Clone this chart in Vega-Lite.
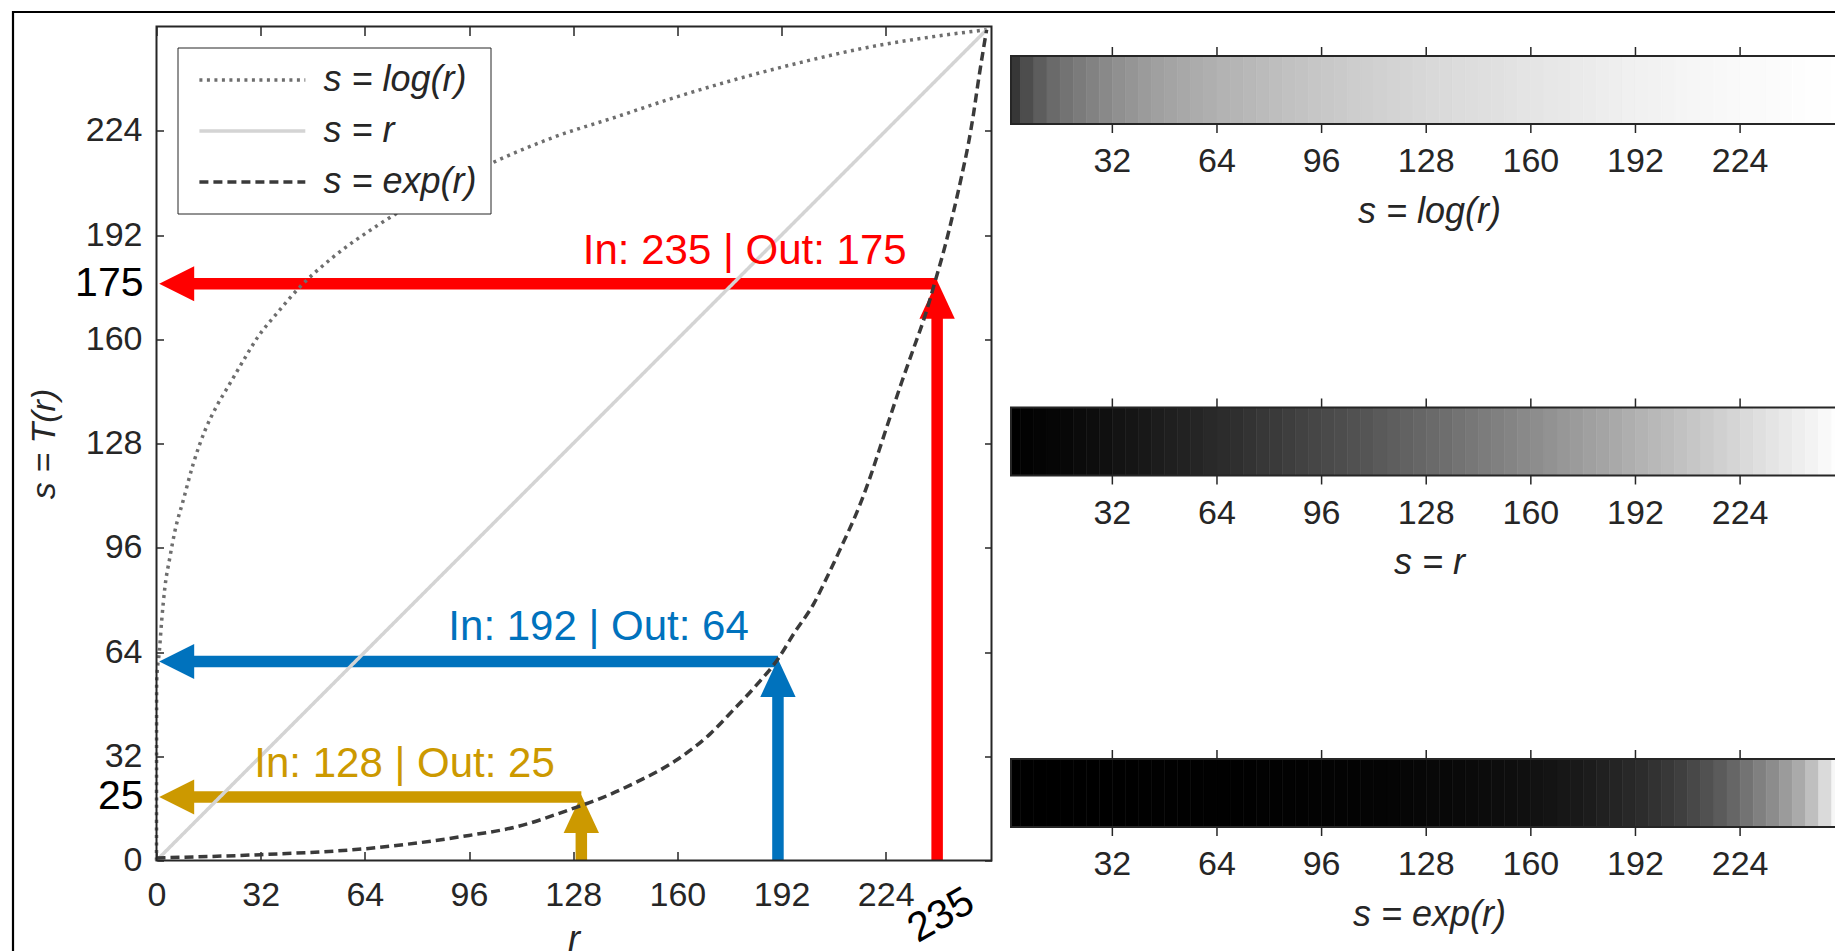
{
  "$schema": "https://vega.github.io/schema/vega-lite/v6.json",
  "usermeta": {"embedOptions": {"actions": false}},
  "background": "white",
  "autosize": {"type": "none"},
  "width": 1678.5,
  "height": 834,
  "padding": {"left": 156.5, "top": 26.5, "right": 0, "bottom": 90.5},
  "datasets": {
    "curves": [
      {"c": "s = log(r)", "r": 0, "s": 0}, {"c": "s = log(r)", "r": 0.05, "s": 55}, {"c": "s = log(r)", "r": 0.9, "s": 64.5},
      {"c": "s = log(r)", "r": 1.6, "s": 73.7}, {"c": "s = log(r)", "r": 2.6, "s": 84}, {"c": "s = log(r)", "r": 4.1, "s": 93},
      {"c": "s = log(r)", "r": 5.7, "s": 101.3}, {"c": "s = log(r)", "r": 8.2, "s": 110.5}, {"c": "s = log(r)", "r": 11.3, "s": 121.8},
      {"c": "s = log(r)", "r": 14.9, "s": 132}, {"c": "s = log(r)", "r": 18.5, "s": 139.5}, {"c": "s = log(r)", "r": 22.6, "s": 146.5},
      {"c": "s = log(r)", "r": 27, "s": 154}, {"c": "s = log(r)", "r": 31, "s": 160.5}, {"c": "s = log(r)", "r": 37, "s": 168},
      {"c": "s = log(r)", "r": 44, "s": 176}, {"c": "s = log(r)", "r": 54, "s": 185}, {"c": "s = log(r)", "r": 68, "s": 195},
      {"c": "s = log(r)", "r": 85, "s": 205}, {"c": "s = log(r)", "r": 105, "s": 215}, {"c": "s = log(r)", "r": 122, "s": 222},
      {"c": "s = log(r)", "r": 142, "s": 228.5}, {"c": "s = log(r)", "r": 157, "s": 233.5}, {"c": "s = log(r)", "r": 177, "s": 239.5},
      {"c": "s = log(r)", "r": 198, "s": 245}, {"c": "s = log(r)", "r": 218, "s": 249.5}, {"c": "s = log(r)", "r": 238, "s": 252.8},
      {"c": "s = log(r)", "r": 255, "s": 255},
      {"c": "s = r", "r": 0, "s": 0}, {"c": "s = r", "r": 255, "s": 255},
      {"c": "s = exp(r)", "r": 0, "s": 0.8}, {"c": "s = exp(r)", "r": 32, "s": 1.8}, {"c": "s = exp(r)", "r": 64, "s": 3.6},
      {"c": "s = exp(r)", "r": 96, "s": 7.7}, {"c": "s = exp(r)", "r": 110, "s": 10.2}, {"c": "s = exp(r)", "r": 128, "s": 16},
      {"c": "s = exp(r)", "r": 137, "s": 19.3}, {"c": "s = exp(r)", "r": 146.5, "s": 23.6}, {"c": "s = exp(r)", "r": 160, "s": 31},
      {"c": "s = exp(r)", "r": 170, "s": 38.8}, {"c": "s = exp(r)", "r": 177, "s": 46}, {"c": "s = exp(r)", "r": 184, "s": 53.5},
      {"c": "s = exp(r)", "r": 191, "s": 62}, {"c": "s = exp(r)", "r": 196, "s": 70}, {"c": "s = exp(r)", "r": 202, "s": 79},
      {"c": "s = exp(r)", "r": 206, "s": 87}, {"c": "s = exp(r)", "r": 210, "s": 95.5}, {"c": "s = exp(r)", "r": 216, "s": 109},
      {"c": "s = exp(r)", "r": 219, "s": 117}, {"c": "s = exp(r)", "r": 222, "s": 126}, {"c": "s = exp(r)", "r": 225.3, "s": 136},
      {"c": "s = exp(r)", "r": 228.9, "s": 146.8}, {"c": "s = exp(r)", "r": 232.5, "s": 157}, {"c": "s = exp(r)", "r": 236.1, "s": 167.3},
      {"c": "s = exp(r)", "r": 239.1, "s": 177.5}, {"c": "s = exp(r)", "r": 242.2, "s": 188.5}, {"c": "s = exp(r)", "r": 244.8, "s": 199},
      {"c": "s = exp(r)", "r": 247.3, "s": 210}, {"c": "s = exp(r)", "r": 249.4, "s": 220}, {"c": "s = exp(r)", "r": 250.9, "s": 228.7},
      {"c": "s = exp(r)", "r": 252.4, "s": 238.9}, {"c": "s = exp(r)", "r": 254, "s": 249}, {"c": "s = exp(r)", "r": 255, "s": 255}
    ],
    "ann": [
      {"k": "In: 128 | Out: 25", "r": 130.5, "s": 19.5, "hs": 14.3, "lr": 76.2, "ls": 25.6, "out": "25", "inp": null},
      {"k": "In: 192 | Out: 64", "r": 190.9, "s": 61.1, "hs": 56.0, "lr": 135.8, "ls": 67.8, "out": null, "inp": null},
      {"k": "In: 235 | Out: 175", "r": 239.8, "s": 177, "hs": 172.1, "lr": 180.7, "ls": 183.2, "out": "175", "inp": "235"}
    ],
    "frame": [{"r0": 0, "r1": 256.5, "s0": 0, "s1": 256, "t": "r", "fl": -44.08, "ft": 260.45}],
    "cbars": [
      {"bar": "s = log(r)", "r0": 1, "r1": 257},
      {"bar": "s = r", "r0": 1, "r1": 257},
      {"bar": "s = exp(r)", "r0": 1, "r1": 257}
    ],
    "cbt": [
      {"bar": "s = log(r)", "v": 32}, {"bar": "s = log(r)", "v": 64}, {"bar": "s = log(r)", "v": 96}, {"bar": "s = log(r)", "v": 128},
      {"bar": "s = log(r)", "v": 160}, {"bar": "s = log(r)", "v": 192}, {"bar": "s = log(r)", "v": 224},
      {"bar": "s = r", "v": 32}, {"bar": "s = r", "v": 64}, {"bar": "s = r", "v": 96}, {"bar": "s = r", "v": 128},
      {"bar": "s = r", "v": 160}, {"bar": "s = r", "v": 192}, {"bar": "s = r", "v": 224},
      {"bar": "s = exp(r)", "v": 32}, {"bar": "s = exp(r)", "v": 64}, {"bar": "s = exp(r)", "v": 96}, {"bar": "s = exp(r)", "v": 128},
      {"bar": "s = exp(r)", "v": 160}, {"bar": "s = exp(r)", "v": 192}, {"bar": "s = exp(r)", "v": 224}
    ],
    "bars": [
      {"r0": 1, "r1": 4, "lin": 2, "log": 78, "exp": 0.8}, {"r0": 4, "r1": 8, "lin": 6, "log": 102, "exp": 1},
      {"r0": 8, "r1": 12, "lin": 10, "log": 117, "exp": 1}, {"r0": 12, "r1": 16, "lin": 14, "log": 129.5, "exp": 1.1},
      {"r0": 16, "r1": 20, "lin": 18, "log": 138.5, "exp": 1.2}, {"r0": 20, "r1": 24, "lin": 22, "log": 145.5, "exp": 1.3},
      {"r0": 24, "r1": 28, "lin": 26, "log": 152, "exp": 1.5}, {"r0": 28, "r1": 32, "lin": 30, "log": 158.5, "exp": 1.7},
      {"r0": 32, "r1": 36, "lin": 34, "log": 164, "exp": 1.9}, {"r0": 36, "r1": 40, "lin": 38, "log": 169, "exp": 2.1},
      {"r0": 40, "r1": 44, "lin": 42, "log": 174, "exp": 2.3}, {"r0": 44, "r1": 48, "lin": 46, "log": 178, "exp": 2.5},
      {"r0": 48, "r1": 52, "lin": 50, "log": 181.5, "exp": 2.7}, {"r0": 52, "r1": 56, "lin": 54, "log": 185, "exp": 3},
      {"r0": 56, "r1": 60, "lin": 58, "log": 188, "exp": 3.2}, {"r0": 60, "r1": 64, "lin": 62, "log": 191, "exp": 3.5},
      {"r0": 64, "r1": 68, "lin": 66, "log": 194, "exp": 3.8}, {"r0": 68, "r1": 72, "lin": 70, "log": 196, "exp": 4.3},
      {"r0": 72, "r1": 76, "lin": 74, "log": 198.5, "exp": 4.8}, {"r0": 76, "r1": 80, "lin": 78, "log": 201, "exp": 5.3},
      {"r0": 80, "r1": 84, "lin": 82, "log": 203.5, "exp": 5.9}, {"r0": 84, "r1": 88, "lin": 86, "log": 205.5, "exp": 6.4},
      {"r0": 88, "r1": 92, "lin": 90, "log": 207.5, "exp": 7}, {"r0": 92, "r1": 96, "lin": 94, "log": 209.5, "exp": 7.5},
      {"r0": 96, "r1": 100, "lin": 98, "log": 211.5, "exp": 8}, {"r0": 100, "r1": 104, "lin": 102, "log": 213.5, "exp": 8.6},
      {"r0": 104, "r1": 108, "lin": 106, "log": 215.5, "exp": 9.2}, {"r0": 108, "r1": 112, "lin": 110, "log": 217, "exp": 9.8},
      {"r0": 112, "r1": 116, "lin": 114, "log": 218.5, "exp": 11}, {"r0": 116, "r1": 120, "lin": 118, "log": 220.5, "exp": 12.5},
      {"r0": 120, "r1": 124, "lin": 122, "log": 222, "exp": 14}, {"r0": 124, "r1": 128, "lin": 126, "log": 223.5, "exp": 15.5},
      {"r0": 128, "r1": 132, "lin": 130, "log": 225, "exp": 17}, {"r0": 132, "r1": 136, "lin": 134, "log": 226, "exp": 18.3},
      {"r0": 136, "r1": 140, "lin": 138, "log": 227.5, "exp": 19.8}, {"r0": 140, "r1": 144, "lin": 142, "log": 228.5, "exp": 21.8},
      {"r0": 144, "r1": 148, "lin": 146, "log": 230, "exp": 23.8}, {"r0": 148, "r1": 152, "lin": 150, "log": 231, "exp": 26},
      {"r0": 152, "r1": 156, "lin": 154, "log": 232.5, "exp": 28}, {"r0": 156, "r1": 160, "lin": 158, "log": 234, "exp": 30},
      {"r0": 160, "r1": 164, "lin": 162, "log": 235, "exp": 32.5}, {"r0": 164, "r1": 168, "lin": 166, "log": 236, "exp": 36},
      {"r0": 168, "r1": 172, "lin": 170, "log": 237.5, "exp": 39.5}, {"r0": 172, "r1": 176, "lin": 174, "log": 238.5, "exp": 43},
      {"r0": 176, "r1": 180, "lin": 178, "log": 239.5, "exp": 47}, {"r0": 180, "r1": 184, "lin": 182, "log": 241, "exp": 51.5},
      {"r0": 184, "r1": 188, "lin": 186, "log": 242, "exp": 56}, {"r0": 188, "r1": 192, "lin": 190, "log": 243, "exp": 61},
      {"r0": 192, "r1": 196, "lin": 194, "log": 244, "exp": 66}, {"r0": 196, "r1": 200, "lin": 198, "log": 245, "exp": 72.5},
      {"r0": 200, "r1": 204, "lin": 202, "log": 246, "exp": 79.5}, {"r0": 204, "r1": 208, "lin": 206, "log": 247, "exp": 87.5},
      {"r0": 208, "r1": 212, "lin": 210, "log": 248, "exp": 96}, {"r0": 212, "r1": 216, "lin": 214, "log": 249, "exp": 105.5},
      {"r0": 216, "r1": 220, "lin": 218, "log": 249.5, "exp": 115}, {"r0": 220, "r1": 224, "lin": 222, "log": 250, "exp": 126},
      {"r0": 224, "r1": 228, "lin": 226, "log": 251, "exp": 138.5}, {"r0": 228, "r1": 232, "lin": 230, "log": 251.5, "exp": 150},
      {"r0": 232, "r1": 236, "lin": 234, "log": 252, "exp": 161}, {"r0": 236, "r1": 240, "lin": 238, "log": 253, "exp": 174},
      {"r0": 240, "r1": 244, "lin": 242, "log": 253.5, "exp": 187}, {"r0": 244, "r1": 248, "lin": 246, "log": 254, "exp": 204},
      {"r0": 248, "r1": 252, "lin": 250, "log": 254.5, "exp": 226}, {"r0": 252, "r1": 257, "lin": 254, "log": 255, "exp": 249}
    ]
  },
  "config": {
    "font": "Liberation Sans",
    "view": {"stroke": null},
    "text": {"color": "#262626"},
    "axis": {
      "labelFont": "Liberation Sans", "labelFontSize": 34, "labelColor": "#262626",
      "titleFont": "Liberation Sans", "titleFontSize": 36, "titleFontStyle": "italic", "titleFontWeight": "normal", "titleColor": "#262626",
      "tickColor": "#262626", "tickWidth": 1.5, "grid": false, "domain": false, "labelFlush": false, "labelOverlap": false
    },
    "legend": {
      "orient": "top-left", "offset": 21, "padding": 13, "rowPadding": 13,
      "strokeColor": "#262626", "fillColor": "white", "cornerRadius": 0,
      "labelFont": "Liberation Sans", "labelFontSize": 36, "labelFontStyle": "italic", "labelColor": "#262626",
      "labelLimit": 400, "labelOffset": 94, "symbolType": "M-0.6,0L5.4,0", "symbolSize": 1246, "symbolStrokeWidth": 3.5
    }
  },
  "resolve": {
    "scale": {"x": "independent", "y": "independent", "fill": "independent", "stroke": "independent", "strokeDash": "independent"},
    "axis": {"x": "independent", "y": "independent"}
  },
  "layer": [
    {
      "data": {"name": "frame"},
      "mark": {"type": "rect", "filled": false, "color": "#000000", "strokeWidth": 2.2},
      "encoding": {
        "x": {"field": "fl", "type": "quantitative", "scale": {"domain": [0, 515.61], "nice": false, "zero": false}, "axis": null},
        "x2": {"datum": 540},
        "y": {"field": "ft", "type": "quantitative", "scale": {"domain": [0, 256], "nice": false, "zero": false}, "axis": null},
        "y2": {"datum": -45}
      }
    },
    {
      "data": {"name": "bars"},
      "mark": {"type": "rect", "clip": true, "strokeWidth": 0.6},
      "encoding": {
        "x": {"field": "r0", "type": "quantitative", "scale": {"domain": [-260.36, 253.03], "nice": false, "zero": false}, "axis": null},
        "x2": {"field": "r1"},
        "y": {"datum": "s = log(r)", "type": "nominal", "scale": {"type": "band", "domain": ["s = log(r)", "s = r", "s = exp(r)"], "paddingInner": 0.8065, "paddingOuter": 0.0896, "align": 0.468}, "axis": null},
        "fill": {"field": "log", "type": "quantitative", "scale": {"type": "pow", "exponent": 1.3, "domain": [0, 255], "range": ["#000000", "#ffffff"], "interpolate": "rgb"}, "legend": null},
        "stroke": {"field": "log", "type": "quantitative", "scale": {"type": "pow", "exponent": 1.3, "domain": [0, 255], "range": ["#000000", "#ffffff"], "interpolate": "rgb"}, "legend": null}
      }
    },
    {
      "data": {"name": "bars"},
      "mark": {"type": "rect", "clip": true, "strokeWidth": 0.6},
      "encoding": {
        "x": {"field": "r0", "type": "quantitative", "scale": {"domain": [-260.36, 253.03], "nice": false, "zero": false}, "axis": null},
        "x2": {"field": "r1"},
        "y": {"datum": "s = r", "type": "nominal", "scale": {"type": "band", "domain": ["s = log(r)", "s = r", "s = exp(r)"], "paddingInner": 0.8065, "paddingOuter": 0.0896, "align": 0.468}, "axis": null},
        "fill": {"field": "lin", "type": "quantitative", "scale": {"type": "pow", "exponent": 1.3, "domain": [0, 255], "range": ["#000000", "#ffffff"], "interpolate": "rgb"}, "legend": null},
        "stroke": {"field": "lin", "type": "quantitative", "scale": {"type": "pow", "exponent": 1.3, "domain": [0, 255], "range": ["#000000", "#ffffff"], "interpolate": "rgb"}, "legend": null}
      }
    },
    {
      "data": {"name": "bars"},
      "mark": {"type": "rect", "clip": true, "strokeWidth": 0.6},
      "encoding": {
        "x": {"field": "r0", "type": "quantitative", "scale": {"domain": [-260.36, 253.03], "nice": false, "zero": false}, "axis": null},
        "x2": {"field": "r1"},
        "y": {"datum": "s = exp(r)", "type": "nominal", "scale": {"type": "band", "domain": ["s = log(r)", "s = r", "s = exp(r)"], "paddingInner": 0.8065, "paddingOuter": 0.0896, "align": 0.468}, "axis": null},
        "fill": {"field": "exp", "type": "quantitative", "scale": {"type": "pow", "exponent": 1.3, "domain": [0, 255], "range": ["#000000", "#ffffff"], "interpolate": "rgb"}, "legend": null},
        "stroke": {"field": "exp", "type": "quantitative", "scale": {"type": "pow", "exponent": 1.3, "domain": [0, 255], "range": ["#000000", "#ffffff"], "interpolate": "rgb"}, "legend": null}
      }
    },
    {
      "data": {"name": "cbars"},
      "mark": {"type": "rect", "filled": false, "color": "#262626", "strokeWidth": 2, "clip": true},
      "encoding": {
        "x": {"field": "r0", "type": "quantitative", "scale": {"domain": [-260.36, 253.03], "nice": false, "zero": false}, "axis": null},
        "x2": {"field": "r1"},
        "y": {"field": "bar", "type": "nominal", "scale": {"type": "band", "domain": ["s = log(r)", "s = r", "s = exp(r)"], "paddingInner": 0.8065, "paddingOuter": 0.0896, "align": 0.468}, "axis": null}
      }
    },
    {
      "data": {"name": "cbt"},
      "mark": {"type": "point", "shape": "M0,0L0,-1", "size": 324, "filled": false, "color": "#262626", "strokeWidth": 1.5, "opacity": 1, "yOffset": -34},
      "encoding": {
        "x": {"field": "v", "type": "quantitative", "scale": {"domain": [-260.36, 253.03], "nice": false, "zero": false}, "axis": null},
        "y": {"field": "bar", "type": "nominal", "scale": {"type": "band", "domain": ["s = log(r)", "s = r", "s = exp(r)"], "paddingInner": 0.8065, "paddingOuter": 0.0896, "align": 0.468}, "axis": null}
      }
    },
    {
      "data": {"name": "cbt"},
      "mark": {"type": "point", "shape": "M0,0L0,1", "size": 324, "filled": false, "color": "#262626", "strokeWidth": 1.5, "opacity": 1, "yOffset": 34},
      "encoding": {
        "x": {"field": "v", "type": "quantitative", "scale": {"domain": [-260.36, 253.03], "nice": false, "zero": false}, "axis": null},
        "y": {"field": "bar", "type": "nominal", "scale": {"type": "band", "domain": ["s = log(r)", "s = r", "s = exp(r)"], "paddingInner": 0.8065, "paddingOuter": 0.0896, "align": 0.468}, "axis": null}
      }
    },
    {
      "data": {"name": "cbt"},
      "mark": {"type": "text", "fontSize": 34, "align": "center", "baseline": "top", "dy": 55.5, "color": "#262626"},
      "encoding": {
        "x": {"field": "v", "type": "quantitative", "scale": {"domain": [-260.36, 253.03], "nice": false, "zero": false}, "axis": null},
        "y": {"field": "bar", "type": "nominal", "scale": {"type": "band", "domain": ["s = log(r)", "s = r", "s = exp(r)"], "paddingInner": 0.8065, "paddingOuter": 0.0896, "align": 0.468}, "axis": null},
        "text": {"field": "v", "type": "quantitative"}
      }
    },
    {
      "data": {"name": "cbars"},
      "mark": {"type": "text", "fontSize": 36, "fontStyle": "italic", "align": "center", "baseline": "alphabetic", "dy": 132.7, "color": "#262626"},
      "encoding": {
        "x": {"datum": 129, "type": "quantitative", "scale": {"domain": [-260.36, 253.03], "nice": false, "zero": false}, "axis": null},
        "y": {"field": "bar", "type": "nominal", "scale": {"type": "band", "domain": ["s = log(r)", "s = r", "s = exp(r)"], "paddingInner": 0.8065, "paddingOuter": 0.0896, "align": 0.468}, "axis": null},
        "text": {"field": "bar", "type": "nominal"}
      }
    },
    {
      "data": {"name": "ann"},
      "mark": {"type": "rule", "strokeWidth": 11.5},
      "encoding": {
        "x": {"field": "r", "type": "quantitative", "scale": {"domain": [0, 515.61], "nice": false, "zero": false}, "axis": null},
        "x2": {"datum": 6.2},
        "y": {"field": "s", "type": "quantitative", "scale": {"domain": [0, 256], "nice": false, "zero": false}, "axis": null},
        "color": {"field": "k", "type": "nominal", "scale": {"domain": ["In: 128 | Out: 25", "In: 192 | Out: 64", "In: 235 | Out: 175"], "range": ["#CC9900", "#0072BD", "#FF0000"]}, "legend": null}
      }
    },
    {
      "data": {"name": "ann"},
      "mark": {"type": "rule", "strokeWidth": 11.5},
      "encoding": {
        "x": {"field": "r", "type": "quantitative", "scale": {"domain": [0, 515.61], "nice": false, "zero": false}, "axis": null},
        "y": {"field": "hs", "type": "quantitative", "scale": {"domain": [0, 256], "nice": false, "zero": false}, "axis": null},
        "y2": {"datum": 0},
        "color": {"field": "k", "type": "nominal", "scale": {"domain": ["In: 128 | Out: 25", "In: 192 | Out: 64", "In: 235 | Out: 175"], "range": ["#CC9900", "#0072BD", "#FF0000"]}, "legend": null}
      }
    },
    {
      "data": {"name": "ann"},
      "mark": {"type": "point", "shape": "M-1,0L1,-1L1,1Z", "size": 1225, "filled": true, "opacity": 1, "strokeWidth": 0},
      "encoding": {
        "x": {"datum": 6.2, "type": "quantitative", "scale": {"domain": [0, 515.61], "nice": false, "zero": false}, "axis": null},
        "y": {"field": "s", "type": "quantitative", "scale": {"domain": [0, 256], "nice": false, "zero": false}, "axis": null},
        "color": {"field": "k", "type": "nominal", "scale": {"domain": ["In: 128 | Out: 25", "In: 192 | Out: 64", "In: 235 | Out: 175"], "range": ["#CC9900", "#0072BD", "#FF0000"]}, "legend": null}
      }
    },
    {
      "data": {"name": "ann"},
      "mark": {"type": "point", "shape": "M0,-1L0.93,1L-0.93,1Z", "size": 1444, "filled": true, "opacity": 1, "strokeWidth": 0},
      "encoding": {
        "x": {"field": "r", "type": "quantitative", "scale": {"domain": [0, 515.61], "nice": false, "zero": false},
              "axis": {"orient": "top", "values": [0, 32, 64, 96, 128, 160, 192, 224], "tickSize": -9, "labels": false, "title": null}},
        "y": {"field": "hs", "type": "quantitative", "scale": {"domain": [0, 256], "nice": false, "zero": false},
              "axis": {"orient": "right", "offset": -843.5, "values": [0, 32, 64, 96, 128, 160, 192, 224], "tickSize": -7, "labels": false, "title": null}},
        "color": {"field": "k", "type": "nominal", "scale": {"domain": ["In: 128 | Out: 25", "In: 192 | Out: 64", "In: 235 | Out: 175"], "range": ["#CC9900", "#0072BD", "#FF0000"]}, "legend": null}
      }
    },
    {
      "data": {"name": "curves"},
      "mark": {"type": "line", "strokeWidth": 3.5, "interpolate": "monotone"},
      "encoding": {
        "x": {"field": "r", "type": "quantitative", "scale": {"domain": [0, 515.61], "nice": false, "zero": false},
              "axis": {"orient": "bottom", "values": [0, 32, 64, 96, 128, 160, 192, 224], "tickSize": -9, "labelPadding": 26.5, "title": null}},
        "y": {"field": "s", "type": "quantitative", "scale": {"domain": [0, 256], "nice": false, "zero": false},
              "axis": {"orient": "left", "values": [0, 32, 64, 96, 128, 160, 192, 224], "tickSize": -7, "labelPadding": 21.5, "title": "s = T(r)", "titleFontSize": 34, "titlePadding": 24}},
        "stroke": {"field": "c", "type": "nominal", "scale": {"domain": ["s = log(r)", "s = r", "s = exp(r)"], "range": ["#6e6e6e", "#d4d4d4", "#3a3a3a"]}, "legend": {"title": null}},
        "strokeDash": {"field": "c", "type": "nominal", "scale": {"domain": ["s = log(r)", "s = r", "s = exp(r)"], "range": [[3, 4.5], [1, 0], [9, 5]]}, "legend": {"title": null}}
      }
    },
    {
      "data": {"name": "frame"},
      "mark": {"type": "rect", "filled": false, "color": "#262626", "strokeWidth": 2},
      "encoding": {
        "x": {"field": "r0", "type": "quantitative", "scale": {"domain": [0, 515.61], "nice": false, "zero": false}, "axis": null},
        "x2": {"field": "r1"},
        "y": {"field": "s0", "type": "quantitative", "scale": {"domain": [0, 256], "nice": false, "zero": false}, "axis": null},
        "y2": {"field": "s1"}
      }
    },
    {
      "data": {"name": "frame"},
      "mark": {"type": "text", "fontSize": 36, "fontStyle": "italic", "align": "center", "baseline": "alphabetic", "dy": 90.4, "color": "#262626"},
      "encoding": {
        "x": {"datum": 128.25, "type": "quantitative", "scale": {"domain": [0, 515.61], "nice": false, "zero": false}, "axis": null},
        "y": {"datum": 0, "type": "quantitative", "scale": {"domain": [0, 256], "nice": false, "zero": false}, "axis": null},
        "text": {"field": "t", "type": "nominal"}
      }
    },
    {
      "data": {"name": "ann"},
      "mark": {"type": "text", "fontSize": 42, "align": "center", "baseline": "alphabetic"},
      "encoding": {
        "x": {"field": "lr", "type": "quantitative", "scale": {"domain": [0, 515.61], "nice": false, "zero": false}, "axis": null},
        "y": {"field": "ls", "type": "quantitative", "scale": {"domain": [0, 256], "nice": false, "zero": false}, "axis": null},
        "text": {"field": "k", "type": "nominal"},
        "color": {"field": "k", "type": "nominal", "scale": {"domain": ["In: 128 | Out: 25", "In: 192 | Out: 64", "In: 235 | Out: 175"], "range": ["#CC9900", "#0072BD", "#FF0000"]}, "legend": null}
      }
    },
    {
      "data": {"name": "ann"},
      "transform": [{"filter": "datum.out != null"}],
      "mark": {"type": "text", "fontSize": 41, "align": "right", "baseline": "middle", "dx": -13, "color": "#000000"},
      "encoding": {
        "x": {"datum": 0, "type": "quantitative", "scale": {"domain": [0, 515.61], "nice": false, "zero": false}, "axis": null},
        "y": {"field": "s", "type": "quantitative", "scale": {"domain": [0, 256], "nice": false, "zero": false}, "axis": null},
        "text": {"field": "out", "type": "nominal"}
      }
    },
    {
      "data": {"name": "ann"},
      "transform": [{"filter": "datum.inp != null"}],
      "mark": {"type": "text", "fontSize": 41, "align": "center", "baseline": "middle", "angle": 330, "dx": -24, "dy": 50, "color": "#000000"},
      "encoding": {
        "x": {"field": "r", "type": "quantitative", "scale": {"domain": [0, 515.61], "nice": false, "zero": false}, "axis": null},
        "y": {"datum": 0, "type": "quantitative", "scale": {"domain": [0, 256], "nice": false, "zero": false}, "axis": null},
        "text": {"field": "inp", "type": "nominal"}
      }
    }
  ]
}
